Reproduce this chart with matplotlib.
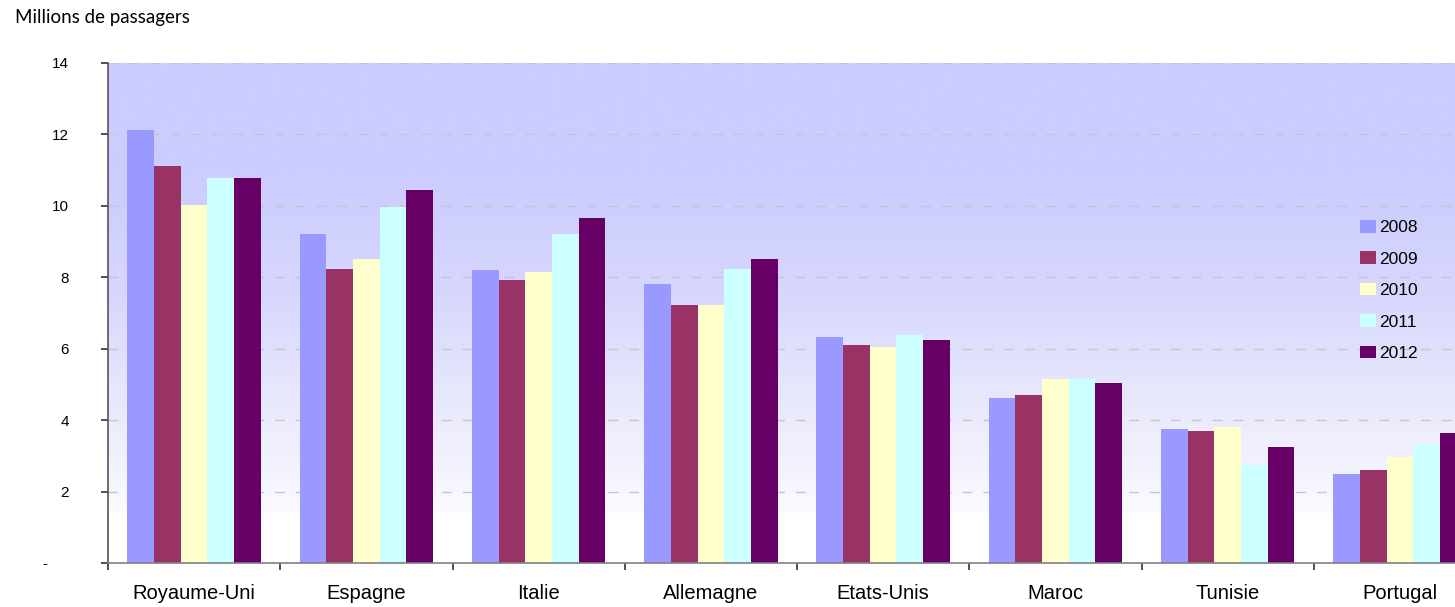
import numpy as np
import matplotlib
matplotlib.use("Agg")
import matplotlib.pyplot as plt
from matplotlib.colors import LinearSegmentedColormap

# ── Data (millions de passagers) ────────────────────────────────────────
countries = ["Royaume-Uni", "Espagne", "Italie", "Allemagne",
             "Etats-Unis", "Maroc", "Tunisie", "Portugal"]
years = ["2008", "2009", "2010", "2011", "2012"]
v2008 = [12.12, 9.21, 8.20, 7.81, 6.33, 4.62, 3.75, 2.49]
v2009 = [11.12, 8.23, 7.92, 7.22, 6.10, 4.70, 3.70, 2.60]
v2010 = [10.02, 8.51, 8.15, 7.22, 6.05, 5.15, 3.81, 2.97]
v2011 = [10.78, 9.97, 9.21, 8.23, 6.38, 5.15, 2.74, 3.33]
v2012 = [10.78, 10.45, 9.66, 8.51, 6.24, 5.04, 3.25, 3.64]
series = [v2008, v2009, v2010, v2011, v2012]
colours = ["#9999ff", "#993366", "#ffffcc", "#ccffff", "#660066"]
yticks = [0, 2, 4, 6, 8, 10, 12, 14]
yticklabels = ["-     ", "2", "4", "6", "8", "10", "12", "14"]

plt.rcParams["font.family"] = ["Liberation Sans", "DejaVu Sans"]

W, H = 1455, 607
fig = plt.figure(figsize=(W / 100, H / 100), dpi=100)
fig.patch.set_facecolor("white")
ax = fig.add_axes([108 / W, 44 / H, 1378 / W, 500 / H])
ax.set_xlim(-0.5, 7.5)
ax.set_ylim(0, 14)

# gradient background (white at the bottom, lavender at the top)
cmap = LinearSegmentedColormap.from_list(
    "bg", ["#fafaff", "#e8e8fc", "#d6d6fe", "#ccccff", "#ccccff"])
grad = np.linspace(0, 1, 256).reshape(-1, 1)
ax.imshow(grad, cmap=cmap, aspect="auto", origin="lower",
          extent=(-0.5, 7.5, 1.4, 14), zorder=0, interpolation="bilinear")

# grid
for y in yticks[1:]:
    ax.axhline(y, color="#c6c6c6", lw=1.0, ls=(0, (7, 8)), zorder=1)

# bars
x = np.arange(len(countries))
bw = 0.155
for i, (vals, col, yr) in enumerate(zip(series, colours, years)):
    ax.bar(x + (i - 2) * bw, vals, width=bw, color=col, label=yr,
           zorder=2, linewidth=0)

# axes cosmetics
for side in ("top", "right"):
    ax.spines[side].set_visible(False)
ax.spines["left"].set_color("#555555")
ax.spines["bottom"].set_color("#808080")
ax.spines["left"].set_linewidth(1.2)
ax.spines["bottom"].set_linewidth(1.2)
ax.spines["left"].set_zorder(3)
ax.spines["bottom"].set_zorder(3)

ax.set_yticks(yticks)
ax.set_yticklabels(yticklabels, fontsize=11)
ax.tick_params(axis="y", length=5, width=1.2, color="#333333", pad=23)

ax.set_xticks(x)
ax.set_xticklabels(countries, fontsize=14.5)
ax.tick_params(axis="x", which="major", length=0, pad=15)
ax.set_xticks(np.arange(-0.5, 7.6, 1.0), minor=True)
ax.tick_params(axis="x", which="minor", length=5, width=1.2, color="#333333")

# legend
fig.legend(loc="upper left", bbox_to_anchor=(1360 / W, 1 - 220 / H),
           frameon=False, fontsize=12.5, handlelength=0.92, handleheight=0.75,
           handletextpad=0.2, labelspacing=0.92, borderpad=0, borderaxespad=0)

fig.text(15 / W, 1 - 18 / H, "Millions de passagers", fontsize=13.5,
         family=["Lato", "DejaVu Sans"], va="center", ha="left")

fig.savefig("out.png", dpi=100, facecolor="white")
